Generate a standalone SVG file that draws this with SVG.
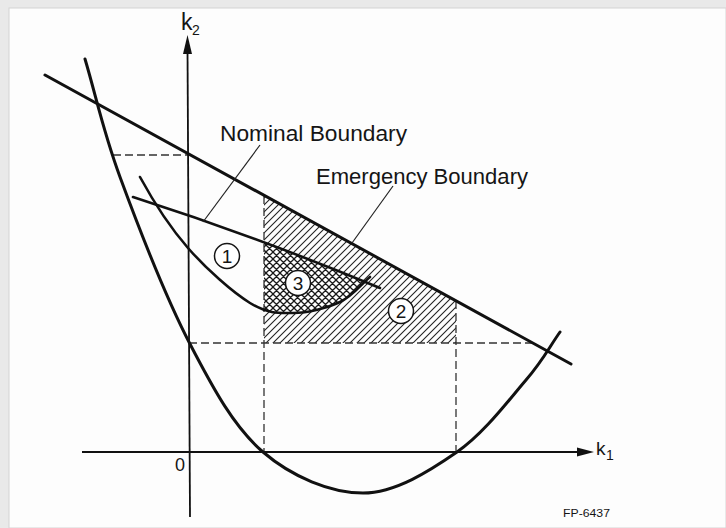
<svg xmlns="http://www.w3.org/2000/svg" width="726" height="528" viewBox="0 0 726 528">
  <style>
    .thick { fill: none; stroke: #111; stroke-width: 3; stroke-linecap: round; stroke-linejoin: round; }
    .nom { fill: none; stroke: #111; stroke-width: 2.6; stroke-linecap: round; }
    .axis { fill: none; stroke: #111; stroke-width: 1.8; }
    .dash { fill: none; stroke: #333; stroke-width: 1.3; stroke-dasharray: 8 4; }
    .leader { fill: none; stroke: #222; stroke-width: 1.2; }
    .lbl { font-family: "Liberation Sans", Arial, sans-serif; fill: #151515; }
    .circ { fill: #fff; stroke: #151515; stroke-width: 1.5; }
    .num { font-family: "Liberation Sans", Arial, sans-serif; font-size: 19px; fill: #151515; text-anchor: middle; }
  </style>
  <defs>
    <pattern id="hatch" patternUnits="userSpaceOnUse" width="7" height="7">
      <path d="M-1,1 L1,-1 M0,7 L7,0 M6,8 L8,6" stroke="#222" stroke-width="1.1"/>
    </pattern>
    <pattern id="cross" patternUnits="userSpaceOnUse" width="7" height="7">
      <rect width="7" height="7" fill="#fff"/>
      <path d="M-1,1 L1,-1 M0,7 L7,0 M6,8 L8,6 M-1,6 L1,8 M0,0 L7,7 M6,-1 L8,1" stroke="#1a1a1a" stroke-width="1.3"/>
    </pattern>
  </defs>

  <g id="background">
    <rect x="0" y="0" width="726" height="528" fill="#e9e9e9"/>
    <rect x="9" y="8" width="717" height="520" fill="#fdfdfd" stroke="#d4d4d4" stroke-width="1"/>
  </g>

  <g id="region-2-hatch">
    <path d="M264,195 L456,300.2 L456,343 L264,343 Z" fill="url(#hatch)"/>
  </g>
  <g id="region-3-crosshatch">
    <path d="M264,242 Q313.8,260.8 364.5,282 C360,286 352.8,296 340,302 C327.2,308 308,312.8 293,313 C282,313.2 270,312.5 264,310 Z" fill="url(#cross)"/>
  </g>

  <g id="dashed-guides">
    <line class="dash" x1="113" y1="155" x2="188" y2="155"/>
    <line class="dash" x1="189" y1="343" x2="533" y2="343"/>
    <line class="dash" x1="264" y1="196" x2="264" y2="452"/>
    <line class="dash" x1="456" y1="301" x2="456" y2="452"/>
  </g>

  <g id="axes">
    <line class="axis" x1="187.5" y1="48" x2="190" y2="517"/>
    <polygon points="187.5,35 183,54 192,54" fill="#111"/>
    <line class="axis" x1="82" y1="452" x2="582" y2="452"/>
    <polygon points="594,452 577,447.5 577,456.5" fill="#111"/>
  </g>

  <g id="emergency-boundary">
    <line class="thick" x1="45" y1="75" x2="571" y2="364"/>
    <path class="thick" d="M85,59 C96.7,98.3 102.5,129.5 120,177 C137.5,224.5 166.2,298.2 190,344 C213.8,389.8 234.2,427.2 263,452 C291.8,476.8 330.7,493 363,493 C395.3,493 429.8,470.8 457,452 C484.2,433.2 508.8,400 526,380 C543.2,360 548.7,348 560,332"/>
  </g>

  <g id="nominal-boundary">
    <path class="nom" d="M133,197 Q255,236 380,288"/>
    <path class="nom" d="M140,177 C152,199 169.7,227 188,248 C206.3,269 232.5,292.2 250,303 C267.5,313.8 278,313.2 293,313 C308,312.8 327.2,308 340,302 C352.8,296 360,285.3 370,277"/>
  </g>

  <g id="connectors">
    <line class="leader" x1="260" y1="145" x2="203" y2="222"/>
    <line class="leader" x1="393" y1="186" x2="352" y2="243"/>
  </g>

  <g id="label-nominal">
    <text class="lbl" x="220" y="140.5" font-size="22" textLength="187" lengthAdjust="spacingAndGlyphs">Nominal Boundary</text>
  </g>
  <g id="label-emergency">
    <text class="lbl" x="316" y="183.5" font-size="22" textLength="212" lengthAdjust="spacingAndGlyphs">Emergency Boundary</text>
  </g>

  <g id="region-1">
    <circle class="circ" cx="227" cy="256" r="12.5"/>
    <text class="num" x="227" y="263">1</text>
  </g>
  <g id="region-2">
    <circle class="circ" cx="401" cy="311" r="12.5"/>
    <text class="num" x="401" y="318">2</text>
  </g>
  <g id="region-3">
    <circle class="circ" cx="298" cy="283" r="12.5"/>
    <text class="num" x="298" y="290">3</text>
  </g>

  <g id="axis-labels">
    <text class="lbl" x="181" y="30" font-size="23">k</text>
    <text class="lbl" x="192" y="34.5" font-size="14">2</text>
    <text class="lbl" x="596" y="455" font-size="19">k</text>
    <text class="lbl" x="606" y="460" font-size="14">1</text>
    <text class="lbl" x="180" y="471" font-size="18" text-anchor="middle">0</text>
  </g>

  <g id="figure-code">
    <text class="lbl" x="563" y="517" font-size="11.5" fill="#333" textLength="47" lengthAdjust="spacingAndGlyphs">FP-6437</text>
  </g>
</svg>
